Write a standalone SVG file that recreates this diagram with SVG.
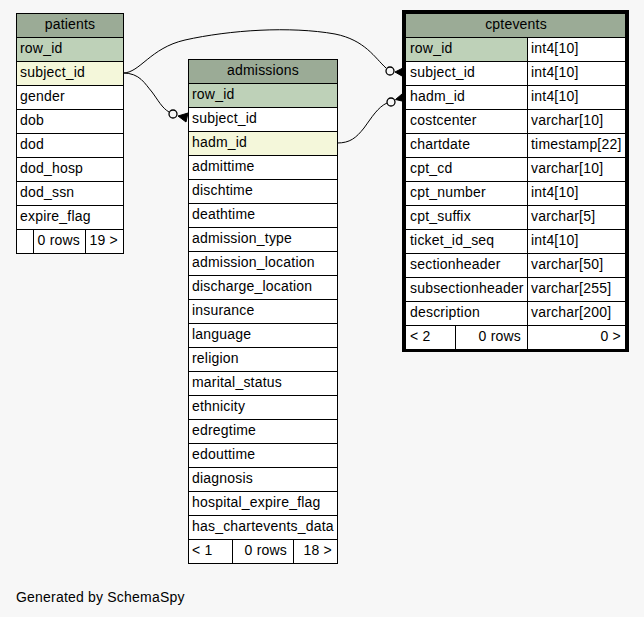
<svg xmlns="http://www.w3.org/2000/svg" width="644" height="617" viewBox="0 0 644 617">
<style>
text{font-family:"Liberation Sans",Arial,sans-serif;font-size:14px;letter-spacing:0.2px;fill:#000}
.h{fill:#9bab96;stroke:#000;stroke-width:1}
.pk{fill:#bed1b8;stroke:#000;stroke-width:1}
.ix{fill:#f4f7da;stroke:#000;stroke-width:1}
.c{fill:#fff;stroke:#000;stroke-width:1}
.t{text-anchor:middle}
.r{text-anchor:end}
.e{fill:none;stroke:#000;stroke-width:1}
.o{fill:#f7f7f7;stroke:#000;stroke-width:1.3}
.cf{fill:#000;stroke:#000;stroke-width:1}
</style>
<rect x="0" y="0" width="644" height="617" fill="#f7f7f7"/>

<g id="connectors">
<path class="e" d="M123,73 C140,73 150,48 185,40 C230,30 290,26 335,34 C365,40 375,58 386,68"/>
<circle class="o" cx="390" cy="71" r="4"/>
<path class="cf" d="M395,72 L402,68.5 L402,76 Z"/>
<path class="e" d="M123,73 C140,73 145,84 152,92 C158,100 162,108 169,112"/>
<circle class="o" cx="173" cy="114" r="4"/>
<path class="cf" d="M178,116 L188,113 L186,122 Z"/>
<path class="e" d="M337,143 C350,143 356,138 364,128 C372,117 378,107 387,103"/>
<circle class="o" cx="391" cy="102" r="4"/>
<path class="cf" d="M395.5,99.5 L402,94 L402,101 Z"/>
</g>

<g id="patients">
<rect class="h" x="16.5" y="13.5" width="107" height="24"/>
<text class="t" x="70" y="29">patients</text>
<rect class="pk" x="16.5" y="37.5" width="107" height="24"/>
<text x="20" y="53">row_id</text>
<rect class="ix" x="16.5" y="61.5" width="107" height="24"/>
<text x="20" y="77">subject_id</text>
<rect class="c" x="16.5" y="85.5" width="107" height="24"/>
<text x="20" y="101">gender</text>
<rect class="c" x="16.5" y="109.5" width="107" height="24"/>
<text x="20" y="125">dob</text>
<rect class="c" x="16.5" y="133.5" width="107" height="24"/>
<text x="20" y="149">dod</text>
<rect class="c" x="16.5" y="157.5" width="107" height="24"/>
<text x="20" y="173">dod_hosp</text>
<rect class="c" x="16.5" y="181.5" width="107" height="24"/>
<text x="20" y="197">dod_ssn</text>
<rect class="c" x="16.5" y="205.5" width="107" height="24"/>
<text x="20" y="221">expire_flag</text>
<rect class="c" x="16.5" y="229.5" width="17" height="24"/>
<rect class="c" x="33.5" y="229.5" width="52" height="24"/>
<rect class="c" x="85.5" y="229.5" width="38" height="24"/>
<text class="r" x="80" y="245">0 rows</text>
<text class="r" x="118" y="245">19 &gt;</text>
</g>

<g id="admissions">
<rect class="h" x="188.5" y="59.5" width="149" height="24"/>
<text class="t" x="263" y="75">admissions</text>
<rect class="pk" x="188.5" y="83.5" width="149" height="24"/>
<text x="192" y="99">row_id</text>
<rect class="c" x="188.5" y="107.5" width="149" height="24"/>
<text x="192" y="123">subject_id</text>
<rect class="ix" x="188.5" y="131.5" width="149" height="24"/>
<text x="192" y="147">hadm_id</text>
<rect class="c" x="188.5" y="155.5" width="149" height="24"/>
<text x="192" y="171">admittime</text>
<rect class="c" x="188.5" y="179.5" width="149" height="24"/>
<text x="192" y="195">dischtime</text>
<rect class="c" x="188.5" y="203.5" width="149" height="24"/>
<text x="192" y="219">deathtime</text>
<rect class="c" x="188.5" y="227.5" width="149" height="24"/>
<text x="192" y="243">admission_type</text>
<rect class="c" x="188.5" y="251.5" width="149" height="24"/>
<text x="192" y="267">admission_location</text>
<rect class="c" x="188.5" y="275.5" width="149" height="24"/>
<text x="192" y="291">discharge_location</text>
<rect class="c" x="188.5" y="299.5" width="149" height="24"/>
<text x="192" y="315">insurance</text>
<rect class="c" x="188.5" y="323.5" width="149" height="24"/>
<text x="192" y="339">language</text>
<rect class="c" x="188.5" y="347.5" width="149" height="24"/>
<text x="192" y="363">religion</text>
<rect class="c" x="188.5" y="371.5" width="149" height="24"/>
<text x="192" y="387">marital_status</text>
<rect class="c" x="188.5" y="395.5" width="149" height="24"/>
<text x="192" y="411">ethnicity</text>
<rect class="c" x="188.5" y="419.5" width="149" height="24"/>
<text x="192" y="435">edregtime</text>
<rect class="c" x="188.5" y="443.5" width="149" height="24"/>
<text x="192" y="459">edouttime</text>
<rect class="c" x="188.5" y="467.5" width="149" height="24"/>
<text x="192" y="483">diagnosis</text>
<rect class="c" x="188.5" y="491.5" width="149" height="24"/>
<text x="192" y="507">hospital_expire_flag</text>
<rect class="c" x="188.5" y="515.5" width="149" height="24"/>
<text x="192" y="531">has_chartevents_data</text>
<rect class="c" x="188.5" y="539.5" width="44" height="24"/>
<rect class="c" x="232.5" y="539.5" width="61" height="24"/>
<rect class="c" x="293.5" y="539.5" width="44" height="24"/>
<text x="192" y="555">&lt; 1</text>
<text class="r" x="287" y="555">0 rows</text>
<text class="r" x="332" y="555">18 &gt;</text>
</g>

<g id="cptevents">
<rect x="403.5" y="11.5" width="224" height="339" fill="none" stroke="#000" stroke-width="3"/>
<rect class="h" x="405.5" y="13.5" width="220" height="24"/>
<text class="t" x="516" y="29">cptevents</text>
<rect class="pk" x="405.5" y="37.5" width="122" height="24"/>
<rect class="c" x="527.5" y="37.5" width="98" height="24"/>
<text x="410" y="53">row_id</text><text x="531" y="53">int4[10]</text>
<rect class="c" x="405.5" y="61.5" width="122" height="24"/>
<rect class="c" x="527.5" y="61.5" width="98" height="24"/>
<text x="410" y="77">subject_id</text><text x="531" y="77">int4[10]</text>
<rect class="c" x="405.5" y="85.5" width="122" height="24"/>
<rect class="c" x="527.5" y="85.5" width="98" height="24"/>
<text x="410" y="101">hadm_id</text><text x="531" y="101">int4[10]</text>
<rect class="c" x="405.5" y="109.5" width="122" height="24"/>
<rect class="c" x="527.5" y="109.5" width="98" height="24"/>
<text x="410" y="125">costcenter</text><text x="531" y="125">varchar[10]</text>
<rect class="c" x="405.5" y="133.5" width="122" height="24"/>
<rect class="c" x="527.5" y="133.5" width="98" height="24"/>
<text x="410" y="149">chartdate</text><text x="531" y="149">timestamp[22]</text>
<rect class="c" x="405.5" y="157.5" width="122" height="24"/>
<rect class="c" x="527.5" y="157.5" width="98" height="24"/>
<text x="410" y="173">cpt_cd</text><text x="531" y="173">varchar[10]</text>
<rect class="c" x="405.5" y="181.5" width="122" height="24"/>
<rect class="c" x="527.5" y="181.5" width="98" height="24"/>
<text x="410" y="197">cpt_number</text><text x="531" y="197">int4[10]</text>
<rect class="c" x="405.5" y="205.5" width="122" height="24"/>
<rect class="c" x="527.5" y="205.5" width="98" height="24"/>
<text x="410" y="221">cpt_suffix</text><text x="531" y="221">varchar[5]</text>
<rect class="c" x="405.5" y="229.5" width="122" height="24"/>
<rect class="c" x="527.5" y="229.5" width="98" height="24"/>
<text x="410" y="245">ticket_id_seq</text><text x="531" y="245">int4[10]</text>
<rect class="c" x="405.5" y="253.5" width="122" height="24"/>
<rect class="c" x="527.5" y="253.5" width="98" height="24"/>
<text x="410" y="269">sectionheader</text><text x="531" y="269">varchar[50]</text>
<rect class="c" x="405.5" y="277.5" width="122" height="24"/>
<rect class="c" x="527.5" y="277.5" width="98" height="24"/>
<text x="410" y="293">subsectionheader</text><text x="531" y="293">varchar[255]</text>
<rect class="c" x="405.5" y="301.5" width="122" height="24"/>
<rect class="c" x="527.5" y="301.5" width="98" height="24"/>
<text x="410" y="317">description</text><text x="531" y="317">varchar[200]</text>
<rect class="c" x="405.5" y="325.5" width="50" height="24"/>
<rect class="c" x="455.5" y="325.5" width="72" height="24"/>
<rect class="c" x="527.5" y="325.5" width="98" height="24"/>
<text x="410" y="341">&lt; 2</text>
<text class="r" x="521" y="341">0 rows</text>
<text class="r" x="621" y="341">0 &gt;</text>
</g>

<text x="16" y="602">Generated by SchemaSpy</text>
</svg>
